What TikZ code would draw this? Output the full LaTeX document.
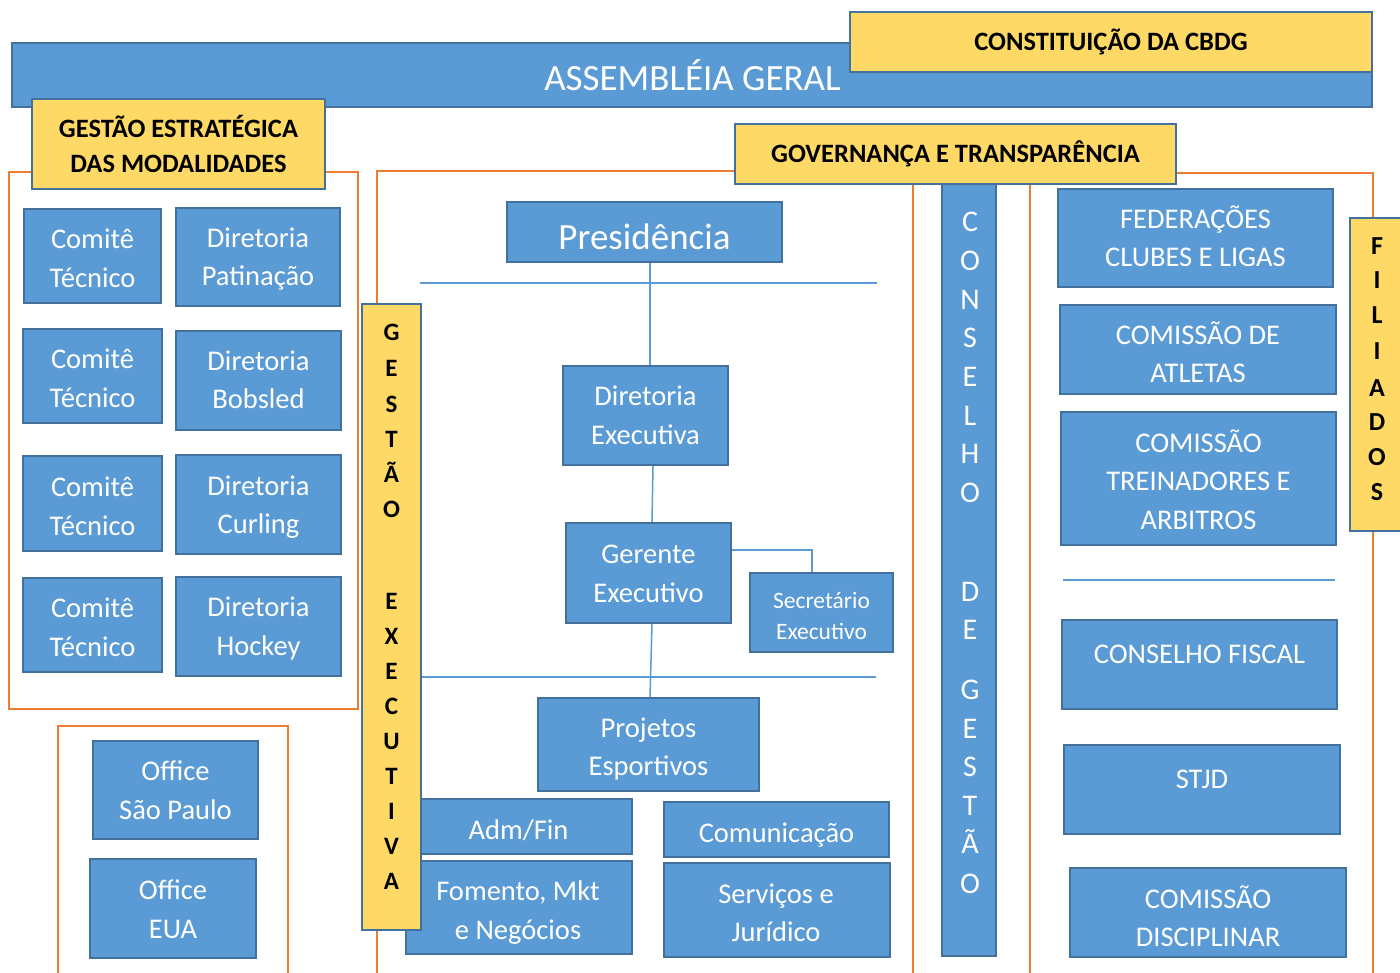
\documentclass[tikz,border=0pt]{standalone}
\usepackage{fontspec}
\setmainfont{Carlito}
\definecolor{bfill}{HTML}{5B9BD5}
\definecolor{bdr}{HTML}{41719C}
\definecolor{yfill}{HTML}{FFD966}
\definecolor{orng}{HTML}{ED7D31}
\definecolor{lnk}{HTML}{5B9BD5}
\newcommand{\fsz}[2]{\fontsize{#1}{#2}\selectfont}
\tikzset{
  bbox/.style={draw=bdr, fill=bfill, line width=2.4pt, inner sep=0pt},
  btext/.style={text=white, inner sep=0pt, align=center, anchor=base, font=\fsz{28.5}{38.5}},
  ybox/.style={draw=bdr, fill=yfill, line width=2.4pt, text=black, inner sep=0pt, align=center, font=\fsz{26.5}{35}\bfseries},
  frame/.style={draw=orng, line width=2.5pt},
  conn/.style={draw=lnk, line width=1.5pt},
  yletter/.style={text=black, inner sep=0pt, anchor=base, font=\fsz{25}{30}\bfseries},
  fletter/.style={text=black, inner sep=0pt, anchor=base, font=\fsz{26}{30}\bfseries},
  wletter/.style={text=white, inner sep=0pt, anchor=base, font=\fsz{30}{36}}
}
\begin{document}
\begin{tikzpicture}[x=1pt,y=-1pt]
\useasboundingbox (0,0) rectangle (1400,973);
\clip (0,0) rectangle (1400,973);
\fill[white] (0,0) rectangle (1400,973);

% orange frames
\draw[frame] (9,172) rectangle (358,709);
\draw[frame] (58,980) -- (58,726) -- (288,726) -- (288,980);
\draw[frame] (377,980) -- (377,171) -- (913,171) -- (913,980);
\draw[frame] (1030,980) -- (1030,173) -- (1373,173) -- (1373,980);

% top bar
\node[bbox, minimum width=1360pt, minimum height=64pt] (asm) at (692,75) {};
\node[btext, font=\fsz{37}{40}] (asmt) at (692.5,91) {ASSEMBLÉIA GERAL};
\node[ybox, minimum width=522pt, minimum height=60pt] (const) at (1111,42) {CONSTITUIÇÃO DA CBDG};
\node[ybox, minimum width=293pt, minimum height=90pt] (gestr) at (178.5,144) {GESTÃO ESTRATÉGICA\\DAS MODALIDADES};

% modalidades (text anchored at the baseline of its last line)
\node[bbox, minimum width=137pt, minimum height=94pt] (com1) at (92.5,256) {};
\node[btext] (com1t) at (92.5,287.3) {Comitê\\Técnico};
\node[bbox, minimum width=164pt, minimum height=98pt] (dir1) at (258,257) {};
\node[btext] (dir1t) at (258,286) {Diretoria\\Patinação};
\node[bbox, minimum width=139pt, minimum height=94pt] (com2) at (92.5,376) {};
\node[btext] (com2t) at (92.5,407) {Comitê\\Técnico};
\node[bbox, minimum width=165pt, minimum height=99pt] (dir2) at (258.5,380.5) {};
\node[btext] (dir2t) at (258.5,408.5) {Diretoria\\Bobsled};
\node[bbox, minimum width=139pt, minimum height=95pt] (com3) at (92.5,503.5) {};
\node[btext] (com3t) at (92.5,535) {Comitê\\Técnico};
\node[bbox, minimum width=165pt, minimum height=99pt] (dir3) at (258.5,504.5) {};
\node[btext] (dir3t) at (258.5,533.5) {Diretoria\\Curling};
\node[bbox, minimum width=139pt, minimum height=94pt] (com4) at (92.5,625) {};
\node[btext] (com4t) at (92.5,656) {Comitê\\Técnico};
\node[bbox, minimum width=165pt, minimum height=99pt] (dir4) at (258.5,626.5) {};
\node[btext] (dir4t) at (258.5,655) {Diretoria\\Hockey};

% offices
\node[bbox, minimum width=165pt, minimum height=98pt] (osp) at (175.5,790) {};
\node[btext] (ospt) at (175.5,819.3) {Office\\São Paulo};
\node[bbox, minimum width=166pt, minimum height=99pt] (oeua) at (173,908.5) {};
\node[btext] (oeuat) at (173,938.3) {Office\\EUA};

% centre column
\node[bbox, minimum width=275pt, minimum height=60pt] (pres) at (644.5,232) {};
\node[btext, font=\fsz{37}{40}] (prest) at (644.5,249.3) {Presidência};
\node[bbox, minimum width=165pt, minimum height=99pt] (de) at (645.5,415.5) {};
\node[btext] (det) at (645.5,444) {Diretoria\\Executiva};
\node[bbox, minimum width=165pt, minimum height=100pt] (ge) at (648.5,573) {};
\node[btext] (get) at (648.5,602.3) {Gerente\\Executivo};
\node[bbox, minimum width=143pt, minimum height=79pt] (se) at (821.5,612.5) {};
\node[btext, font=\fsz{23.5}{31}] (set) at (821.5,639.3) {Secretário\\Executivo};
\node[bbox, minimum width=221pt, minimum height=93pt] (pe) at (648.5,744.5) {};
\node[btext] (pet) at (648.5,775.7) {Projetos\\Esportivos};
\node[bbox, minimum width=227pt, minimum height=55pt] (adm) at (518.5,826.5) {};
\node[btext] (admt) at (518.5,839.3) {Adm/Fin};
\node[bbox, minimum width=226pt, minimum height=93pt] (fom) at (519,907.5) {};
\node[btext] (fomt) at (518,939.3) {Fomento, Mkt\\e Negócios};
\node[bbox, minimum width=225pt, minimum height=55pt] (comu) at (776.5,829.5) {};
\node[btext] (comut) at (776.5,842.7) {Comunicação};
\node[bbox, minimum width=226pt, minimum height=94pt] (serv) at (777,910) {};
\node[btext] (servt) at (776,941.7) {Serviços e\\Jurídico};

\coordinate (h1a) at (420,283);
\coordinate (h1b) at (877,283);
\draw[conn] (h1a) -- (h1b);
\coordinate (h2b) at (876,677);
\draw[conn] ([xshift=5.5pt]pres.south) -- ([xshift=4.5pt]de.north);
\draw[conn] ([xshift=7.5pt]de.south) -- ([xshift=3.5pt]ge.north);
\draw[conn] ([yshift=23pt]ge.east) -| ([xshift=-9.5pt]se.north);
\draw[conn] ([xshift=3.5pt]ge.south) -- ([xshift=1.5pt]pe.north);

% right column
\node[bbox, minimum width=275pt, minimum height=98pt] (fed) at (1195.5,238) {};
\node[btext] (fedt) at (1195.5,266.7) {FEDERAÇÕES\\CLUBES E LIGAS};
\node[bbox, minimum width=276pt, minimum height=89pt] (atl) at (1198,349.5) {};
\node[btext] (atlt) at (1198,382.7) {COMISSÃO DE\\ATLETAS};
\node[bbox, minimum width=275pt, minimum height=133pt] (tre) at (1198.5,478.5) {};
\node[btext] (tret) at (1198.5,529.3) {COMISSÃO\\TREINADORES E\\ARBITROS};
\coordinate (h3a) at (1063,580);
\coordinate (h3b) at (1335,580);
\draw[conn] (h3a) -- (h3b);
\node[bbox, minimum width=275pt, minimum height=89pt] (fis) at (1199.5,664.5) {};
\node[btext] (fist) at (1199.5,663.3) {CONSELHO FISCAL};
\node[bbox, minimum width=276pt, minimum height=89pt] (stjd) at (1202,789.5) {};
\node[btext] (stjdt) at (1202,788.3) {STJD};
\node[bbox, minimum width=276pt, minimum height=89pt] (disc) at (1208,912.5) {};
\node[btext] (disct) at (1208,946.7) {COMISSÃO\\DISCIPLINAR};

% governança box and vertical bars
\node[bbox, minimum width=54pt, minimum height=772pt] (cg) at (969,570) {};
\foreach \ch/\b [count=\i] in {C/231.5,O/270.5,N/309.5,S/347.5,E/386.5,L/425,H/463.5,O/502.5,D/601.5,E/639.5,G/699.5,E/738.5,S/776.5,T/815.5,Ã/853.5,O/893.5}
  \node[wletter] (cgl\i) at (970,\b) {\ch};
\node[ybox, minimum width=441pt, minimum height=60pt] (gov) at (955.5,154) {GOVERNANÇA E TRANSPARÊNCIA};

\node[ybox, minimum width=59pt, minimum height=626pt] (gex) at (391.5,617) {};
\foreach \ch/\b [count=\i] in {G/341,E/376.5,S/412,T/447,Ã/482,O/517,E/609,X/644,E/679,C/714,U/749,T/784,I/819,V/854,A/889}
  \node[yletter] (gel\i) at (391.5,\b) {\ch};
\draw[conn] (gex.east |- h2b) -- (h2b);

\node[ybox, minimum width=62pt, minimum height=313pt] (fil) at (1381,374.5) {};
\foreach \ch/\b [count=\i] in {F/255,I/289,L/324,I/360,A/396,D/430,O/465,S/500}
  \node[fletter] (fl\i) at (1377,\b) {\ch};
\end{tikzpicture}
\end{document}
